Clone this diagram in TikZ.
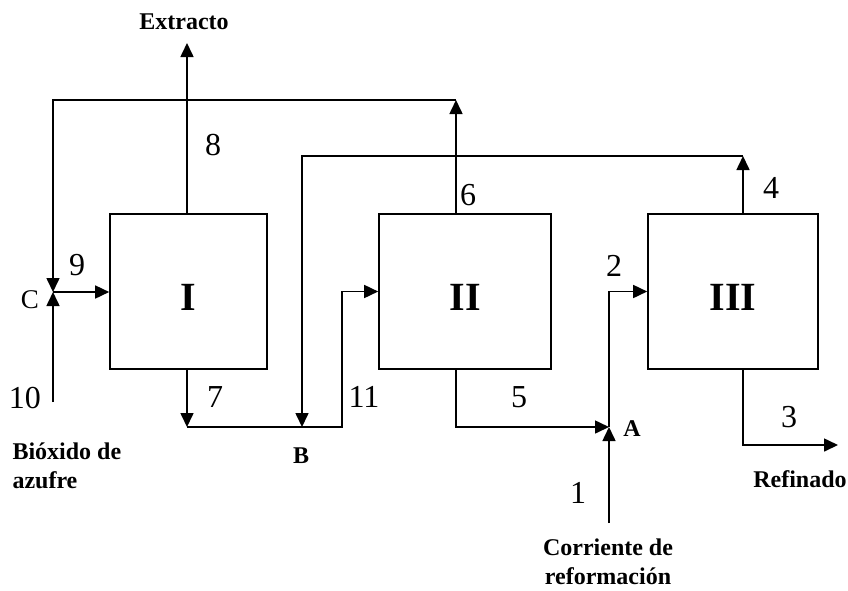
\documentclass[tikz,border=0pt]{standalone}
\usepackage{fontspec}
\setmainfont{Liberation Serif}
\usepackage{tikz}
\usetikzlibrary{arrows.meta, positioning}

\begin{document}
\begin{tikzpicture}[
    x=1pt, y=-1pt,
    unit/.style = {draw=black, line width=1.6pt, minimum height=155pt, inner sep=0pt, font=\bfseries\fontsize{40}{40}\selectfont},
    flow/.style = {line width=1.6pt, -{Triangle[length=14pt, width=13pt]}},
    num/.style = {font=\fontsize{32}{32}\selectfont},
    tag/.style = {font=\bfseries\fontsize{24}{29}\selectfont},
    pt/.style = {font=\bfseries\fontsize{24}{24}\selectfont}
]
\useasboundingbox (0,0) rectangle (848,590);

\node [unit, minimum width=157pt] (boxI)   at (188.5,291.5) {};
\node [unit, minimum width=172pt] (boxII)  at (465,291.5) {};
\node [unit, minimum width=170pt] (boxIII) at (733,291.5) {};
\node [unit, draw=none] (nI)   at (188,297) {I};
\node [unit, draw=none] (nII)  at (465,297) {II};
\node [unit, draw=none] (nIII) at (733,297) {III};

\coordinate (ext)   at (187,43);
\coordinate (top6)  at (456,100);
\coordinate (topC)  at (53,100);
\coordinate (C)     at (53,292);
\coordinate (src10) at (53,402);
\coordinate (top4)  at (743,156);
\coordinate (topB)  at (302,156);
\coordinate (B)     at (302,427);
\coordinate (bend11) at (342,427);
\coordinate (A)     at (609,427);
\coordinate (src1)  at (609,523);
\coordinate (out3)  at (838,445);

% extract leaves unit I
\draw[flow] (boxI.north -| ext) -- (ext);
% recycle 6 goes back to mixer C
\draw[flow] (boxII.north -| top6) -- (top6);
\draw[flow] (top6) -- (topC) -- (C);
\draw[flow] (src10) -- (C);
\draw[flow] (C) -- (boxI.west |- C);
% recycle 4 goes back to mixer B
\draw[flow] (boxIII.north -| top4) -- (top4);
\draw[flow] (top4) -- (topB) -- (B);
\draw[flow] (boxI.south -| ext) -- (ext |- B);
\draw[flow] (ext |- B) -- (bend11) -- (bend11 |- boxII.west) -- (boxII.west);
% feed enters at mixer A
\draw[flow] (boxII.south -| top6) -- (top6 |- A) -- (A);
\draw[flow] (src1) -- (A);
\draw[flow] (A) -- (A |- boxIII.west) -- (boxIII.west);
\draw[flow] (boxIII.south -| top4) -- (top4 |- out3) -- (out3);

% stream numbers
\node [num] (s1)  at (578,493) {1};
\node [num] (s2)  at (614,266) {2};
\node [num] (s3)  at (789,417) {3};
\node [num] (s4)  at (771,188) {4};
\node [num] (s5)  at (519,397) {5};
\node [num] (s6)  at (468,195) {6};
\node [num] (s7)  at (215,397) {7};
\node [num] (s8)  at (213,145) {8};
\node [num] (s9)  at (77,265) {9};
\node [num] (s10) at (25,398) {10};
\node [num] (s11) at (364,397) {11};

\node [num, font=\fontsize{27}{27}\selectfont] (lC) at (30,300) {C};
\node [pt] (lB) at (301,456) {B};
\node [pt] (lA) at (632,429) {A};

\node [tag] (extracto) at (184,22) {Extracto};
\node [tag] (refinado) at (800,479) {Refinado};
\node [tag, align=left, anchor=west] (so2) at (9,466) {Bióxido de\\azufre};
\node [tag, align=center] (feed) at (608,562) {Corriente de\\reformación};

\end{tikzpicture}
\end{document}
